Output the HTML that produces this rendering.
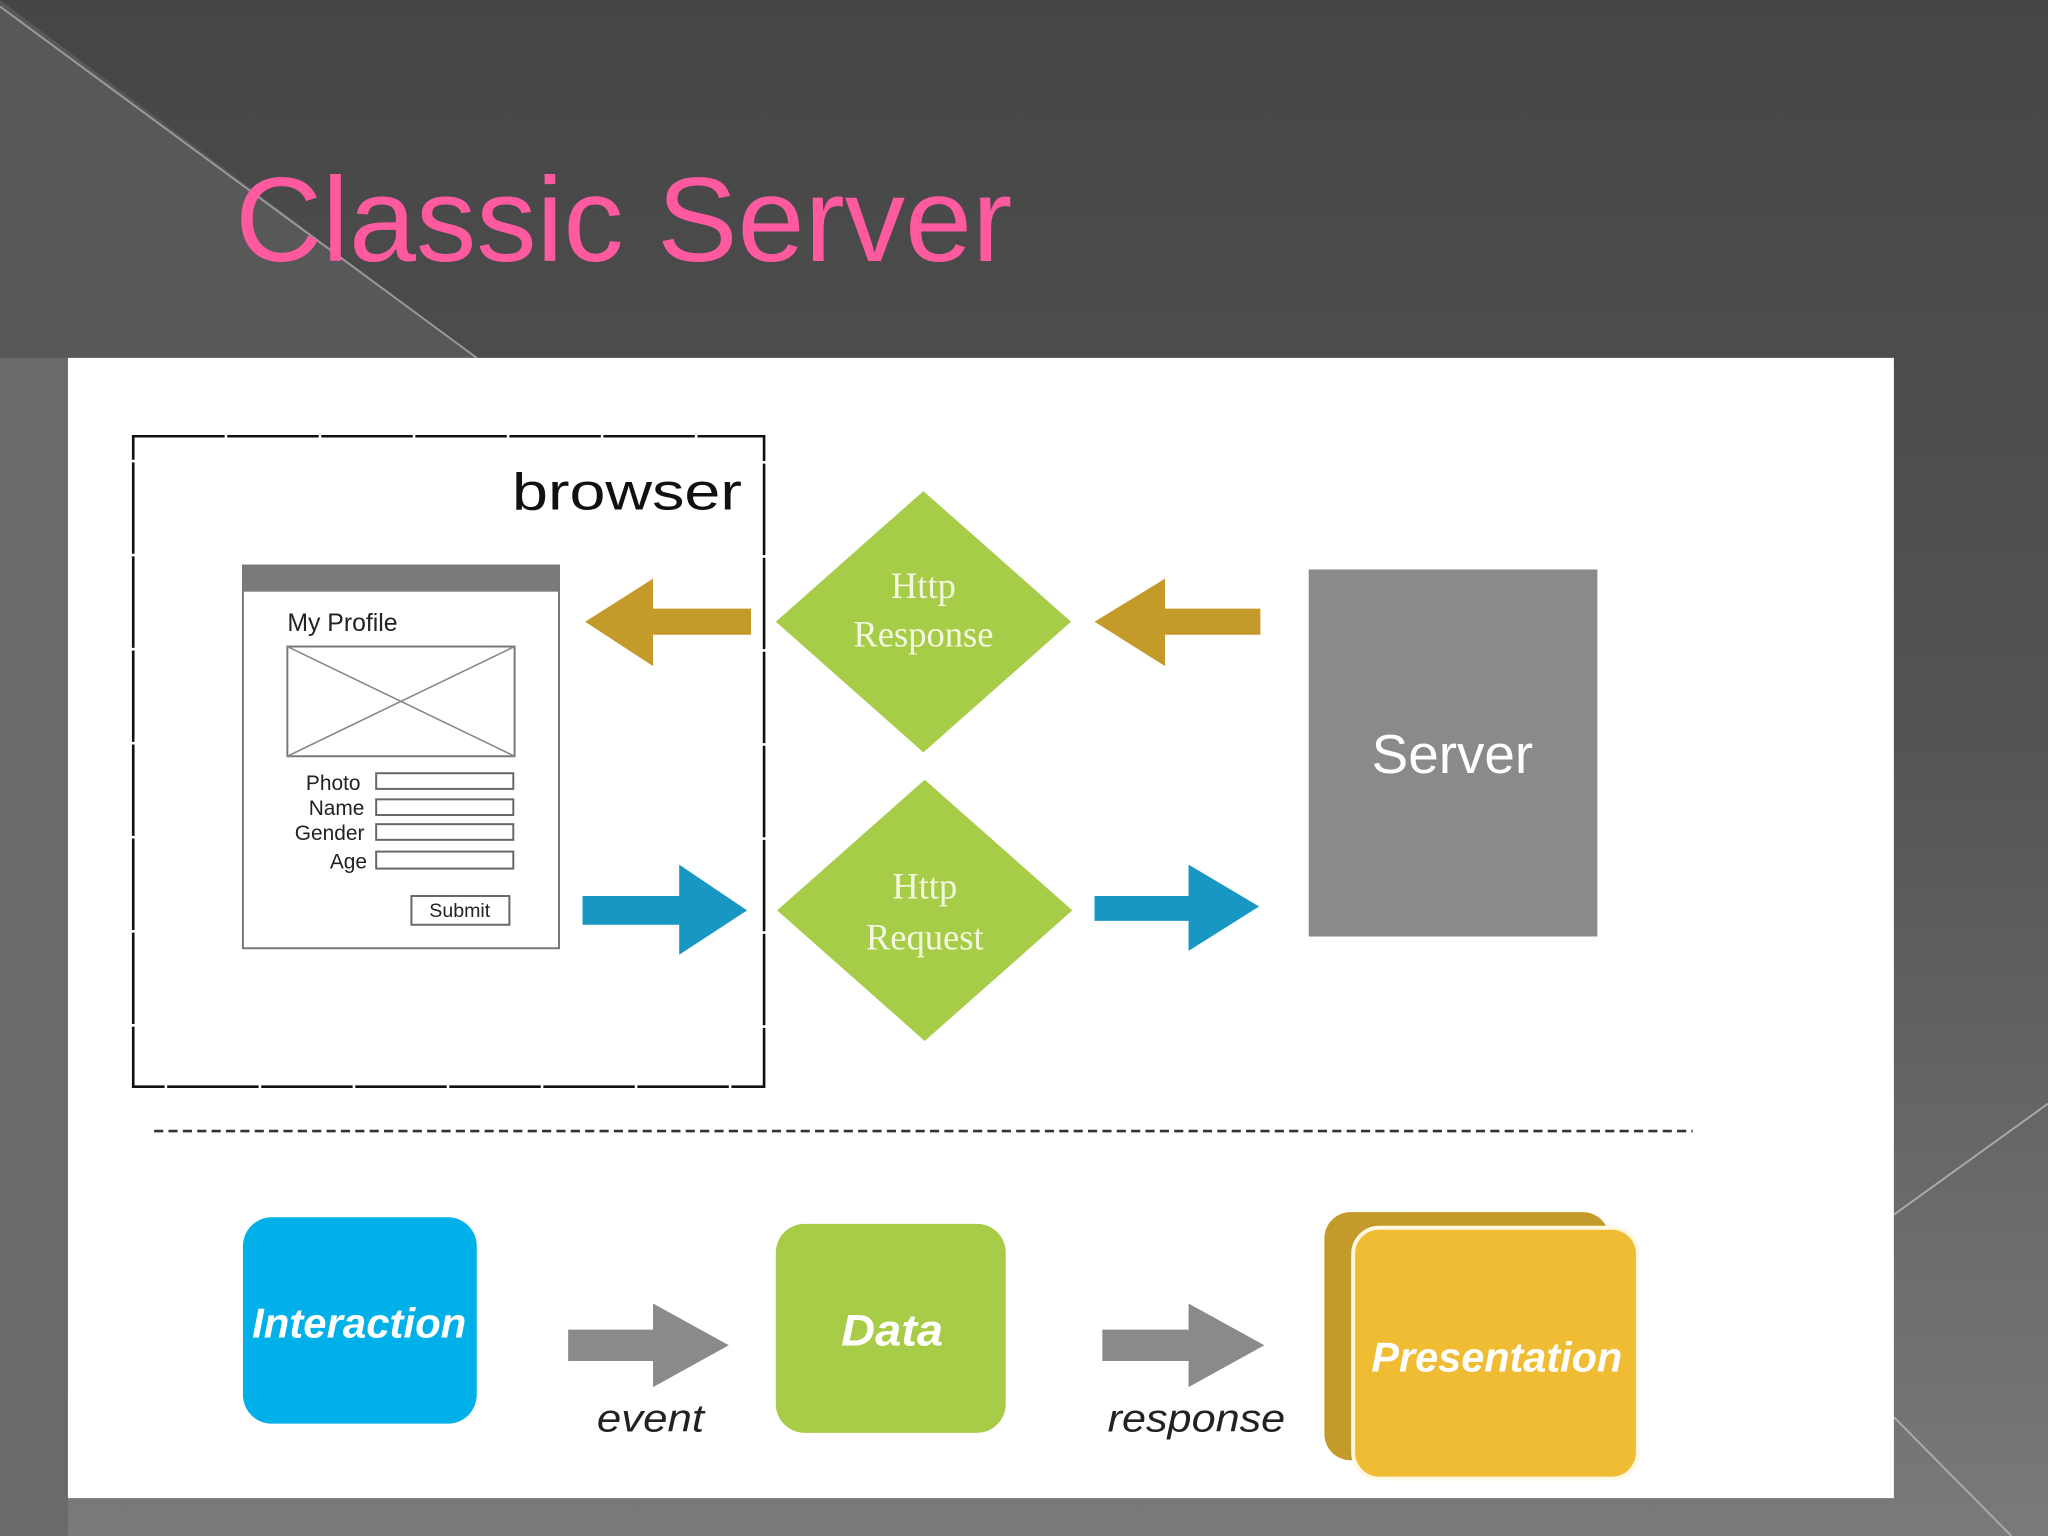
<!DOCTYPE html>
<html><head><meta charset="utf-8"><style>
html,body{margin:0;padding:0;background:#4a4a4a;}
svg{display:block;}
</style></head><body>
<svg width="2048" height="1536" viewBox="0 0 1568 1176" xmlns="http://www.w3.org/2000/svg" font-family="Liberation Sans, sans-serif">
<defs>
<linearGradient id="bg" x1="0" y1="0" x2="0" y2="1">
<stop offset="0" stop-color="#454545"/><stop offset="0.5" stop-color="#555555"/><stop offset="1" stop-color="#7a7a7a"/>
</linearGradient>
</defs>
<rect width="1568" height="1176" fill="url(#bg)"/>
<polygon points="0,0 365,274 0,274" fill="#585858"/>
<rect x="0" y="274" width="52" height="902" fill="#6a6a6a"/>
<line x1="0" y1="5" x2="365" y2="274" stroke="#9a9a9a" stroke-width="1.5"/>
<line x1="1450" y1="930" x2="1568" y2="845" stroke="#aaa" stroke-width="1.5"/>
<line x1="1450" y1="1085" x2="1540" y2="1176" stroke="#aaa" stroke-width="1.5"/>
<text x="180" y="200" font-size="92" fill="#ff5aa0" textLength="595" lengthAdjust="spacingAndGlyphs">Classic Server</text>
<rect x="52" y="274" width="1398" height="873" fill="#ffffff"/>
<!-- browser box -->
<rect x="102" y="334" width="483" height="498" fill="none" stroke="#111" stroke-width="2" stroke-dasharray="70 2"/>
<text x="392" y="390" font-size="40" fill="#111" textLength="176" lengthAdjust="spacingAndGlyphs">browser</text>
<!-- profile window -->
<rect x="186" y="433" width="242" height="293" fill="#fff" stroke="#777" stroke-width="1.5"/>
<rect x="186" y="433" width="242" height="20" fill="#7a7a7a"/>
<text x="220" y="483" font-size="19" fill="#222">My Profile</text>
<rect x="220" y="495" width="174" height="84" fill="none" stroke="#777" stroke-width="1.5"/>
<line x1="220" y1="495" x2="394" y2="579" stroke="#888" stroke-width="1.2"/>
<line x1="394" y1="495" x2="220" y2="579" stroke="#888" stroke-width="1.2"/>
<g font-size="16" fill="#222" text-anchor="end">
<text x="276" y="605">Photo</text><text x="279" y="624">Name</text><text x="279" y="643">Gender</text><text x="281" y="665">Age</text>
</g>
<g fill="none" stroke="#666" stroke-width="1.5">
<rect x="288" y="592" width="105" height="12"/><rect x="288" y="612" width="105" height="12"/>
<rect x="288" y="631" width="105" height="12"/><rect x="288" y="652" width="105" height="13"/>
<rect x="315" y="686" width="75" height="22"/>
</g>
<text x="352" y="702" font-size="15" fill="#222" text-anchor="middle">Submit</text>
<!-- arrows -->
<polygon points="575,466 500,466 500,443 448,476 500,510 500,486 575,486" fill="#c49a2a"/>
<polygon points="965,466 892,466 892,443 838,476 892,510 892,486 965,486" fill="#c49a2a"/>
<polygon points="446,686 520,686 520,662 572,697 520,731 520,708 446,708" fill="#1797c2"/>
<polygon points="838,686 910,686 910,662 964,694 910,728 910,705 838,705" fill="#1797c2"/>
<!-- diamonds -->
<polygon points="707,376 820,476 707,576 594,476" fill="#a6cc48"/>
<polygon points="708,597 821,697 708,797 595,697" fill="#a6cc48"/>
<g fill="#f4f8e0" font-size="28" text-anchor="middle" font-family="Liberation Serif, serif">
<text x="707" y="458">Http</text><text x="707" y="495">Response</text>
<text x="708" y="688">Http</text><text x="708" y="727">Request</text>
</g>
<rect x="1002" y="436" width="221" height="281" fill="#8a8a8a"/>
<text x="1112" y="592" font-size="42" fill="#fff" text-anchor="middle">Server</text>
<line x1="118" y1="866" x2="1296" y2="866" stroke="#333" stroke-width="2" stroke-dasharray="7 4"/>
<!-- bottom -->
<rect x="186" y="932" width="179" height="158" rx="22" fill="#00b0e8"/>
<text x="275" y="1024" font-size="32" fill="#fff" text-anchor="middle" font-style="italic" font-weight="bold" textLength="164" lengthAdjust="spacingAndGlyphs">Interaction</text>
<rect x="594" y="937" width="176" height="160" rx="22" fill="#a8cc48"/>
<text x="683" y="1030" font-size="34" fill="#fff" text-anchor="middle" font-style="italic" font-weight="bold" textLength="78" lengthAdjust="spacingAndGlyphs">Data</text>
<rect x="1014" y="928" width="218" height="190" rx="20" fill="#c49a2a"/>
<rect x="1036" y="940" width="218" height="192" rx="20" fill="#f0bc34" stroke="#fff8e0" stroke-width="3"/>
<text x="1146" y="1050" font-size="32" fill="#fff" text-anchor="middle" font-style="italic" font-weight="bold" textLength="192" lengthAdjust="spacingAndGlyphs">Presentation</text>
<polygon points="435,1018 500,1018 500,998 558,1030 500,1062 500,1042 435,1042" fill="#8a8a8a"/>
<polygon points="844,1018 910,1018 910,998 968,1030 910,1062 910,1042 844,1042" fill="#8a8a8a"/>
<text x="498" y="1096" font-size="30" fill="#222" text-anchor="middle" font-style="italic" textLength="82" lengthAdjust="spacingAndGlyphs">event</text>
<text x="916" y="1096" font-size="30" fill="#222" text-anchor="middle" font-style="italic" textLength="136" lengthAdjust="spacingAndGlyphs">response</text>
</svg>
</body></html>
